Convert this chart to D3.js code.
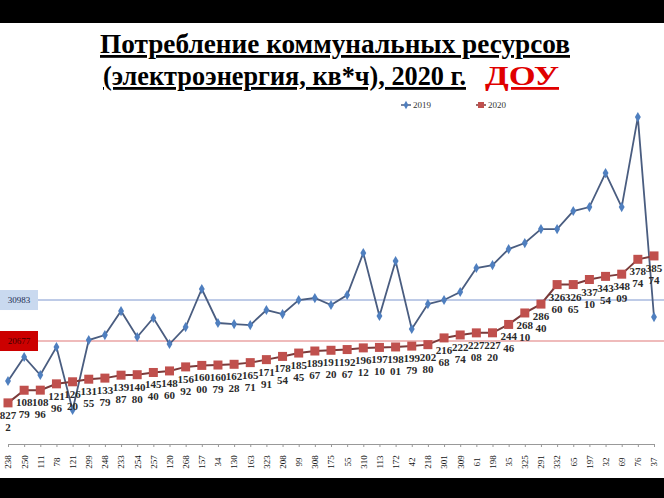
<!DOCTYPE html>
<html><head><meta charset="utf-8">
<script src="https://cdn.jsdelivr.net/npm/d3@7"></script>
<style>body{margin:0;background:#fff}svg{display:block}</style>
</head><body>
<script>
const categories = ["238","250","111","78","121","299","248","233","254","257","120","268","157","34","130","163","323","208","99","308","175","55","310","113","172","42","218","301","309","61","198","35","325","291","332","65","197","32","69","76","37"];
const values2019 = [12780,17730,14020,19790,6800,21230,22260,27210,21850,25770,20410,23910,31750,24740,24530,24320,27420,26590,29480,29890,28450,30510,39170,26180,37520,23500,28650,29480,31130,36080,36690,39990,41230,44110,44110,47830,48650,55660,48650,67200,25970];
const values2020 = [8272,10879,10896,12196,12620,13155,13379,13987,14080,14540,14860,15692,16000,16079,16228,16571,17191,17854,18545,18967,19120,19267,19612,19710,19801,19979,20280,21668,22274,22708,22720,24446,26810,28640,32660,32665,33710,34354,34809,37874,38574];
const refLines = [{label:"30983", value:29480, kind:"blue"},{label:"20677", value:21030, kind:"red"}];
const seriesNames = ["2019","2020"];

const W=664,H=498;
const svg=d3.select("body").append("svg").attr("width",W).attr("height",H);
svg.append("rect").attr("width",W).attr("height",H).attr("fill","#fff");
svg.append("rect").attr("x",0).attr("y",0).attr("width",W).attr("height",23).attr("fill","#000");
svg.append("rect").attr("x",0).attr("y",478).attr("width",W).attr("height",20).attr("fill","#000");

const serif="'Liberation Serif','Times New Roman',serif";
// title
svg.append("text").attr("x",100).attr("y",53)
 .attr("font-family",serif).attr("font-weight","bold").attr("font-size",28)
 .attr("text-decoration","underline").attr("textLength",470).attr("lengthAdjust","spacingAndGlyphs")
 .text("Потребление коммунальных ресурсов");
svg.append("text").attr("x",103).attr("y",85)
 .attr("font-family",serif).attr("font-weight","bold").attr("font-size",28)
 .attr("text-decoration","underline").attr("textLength",363).attr("lengthAdjust","spacingAndGlyphs")
 .text("(электроэнергия, кв*ч), 2020 г.");
svg.append("text").attr("x",485).attr("y",85)
 .attr("font-family",serif).attr("font-weight","bold").attr("font-size",28).attr("fill","#e00000")
 .attr("text-decoration","underline").attr("textLength",74).attr("lengthAdjust","spacingAndGlyphs")
 .text("ДОУ");

const x=d3.scalePoint().domain(categories).range([8,654]).padding(0);
const y=d3.scaleLinear().domain([0,80000]).range([443,55]);

// reference lines
refLines.forEach(r=>{
  const yy=y(r.value);
  svg.append("line").attr("x1",38).attr("x2",W).attr("y1",yy).attr("y2",yy)
    .attr("stroke", r.kind==="blue"?"#7f97d0":"#e07878").attr("stroke-width",1.2);
  svg.append("rect").attr("x",0).attr("y",yy-10).attr("width",38).attr("height",20)
    .attr("fill", r.kind==="blue"?"#c9d9ef":"#cc0000");
  svg.append("text").attr("x",19).attr("y",yy+3).attr("text-anchor","middle")
    .attr("font-family",serif).attr("font-size",9).attr("fill", r.kind==="blue"?"#1a2a50":"#400000").text(r.label);
});

// axis
const ax=svg.append("g").attr("transform","translate(0,444)")
  .call(d3.axisBottom(x).tickSize(3).tickSizeOuter(0));
ax.select(".domain").attr("stroke","#999");
ax.selectAll(".tick line").attr("stroke","#999");
ax.selectAll(".tick text").attr("font-family",serif).attr("font-size",9).attr("fill","#111")
  .attr("transform","rotate(-90)").attr("text-anchor","middle").attr("x",-18).attr("y",0).attr("dy","0.32em");

const line=d3.line().x((d,i)=>x(categories[i])).y(d=>y(d));
// 2019
svg.append("path").datum(values2019).attr("d",line).attr("fill","none").attr("stroke","#4a5d80").attr("stroke-width",1.8);
svg.selectAll(".m19").data(values2019).join("path").attr("class","m19")
  .attr("d",d3.symbol(d3.symbolDiamond,30)())
  .attr("transform",(d,i)=>`translate(${x(categories[i])},${y(d)})`).attr("fill","#4f7fbf");
// 2020
svg.append("path").datum(values2020).attr("d",line).attr("fill","none").attr("stroke","#7a3a3a").attr("stroke-width",2);
svg.selectAll(".m20").data(values2020).join("rect").attr("class","m20")
  .attr("x",(d,i)=>x(categories[i])-4.5).attr("y",d=>y(d)-4.5).attr("width",9).attr("height",9)
  .attr("fill","#c0504d");
// labels 2020
const lab=svg.selectAll(".l20").data(values2020).join("text").attr("class","l20")
  .attr("font-family",serif).attr("font-size",11).attr("font-weight","bold").attr("fill","#2a2a2a").attr("text-anchor","middle");
lab.each(function(d,i){
  const s=String(d), px=x(categories[i]), py=y(d);
  const el=d3.select(this);
  el.append("tspan").attr("x",px).attr("y",py+16).text(s.slice(0,3));
  el.append("tspan").attr("x",px).attr("y",py+28).text(s.slice(3));
});

// legend
const lg=svg.append("g").attr("font-family",serif).attr("font-size",9).attr("fill","#333");
lg.append("line").attr("x1",401).attr("x2",411).attr("y1",105).attr("y2",105).attr("stroke","#4a5d80").attr("stroke-width",1.5);
lg.append("path").attr("d",d3.symbol(d3.symbolDiamond,20)()).attr("transform","translate(406,105)").attr("fill","#4f7fbf");
lg.append("text").attr("x",413).attr("y",108).text(seriesNames[0]);
lg.append("line").attr("x1",476).attr("x2",486).attr("y1",105).attr("y2",105).attr("stroke","#7a3a3a").attr("stroke-width",1.5);
lg.append("rect").attr("x",478).attr("y",102).attr("width",6).attr("height",6).attr("fill","#c0504d");
lg.append("text").attr("x",488).attr("y",108).text(seriesNames[1]);
</script>
</body></html>
